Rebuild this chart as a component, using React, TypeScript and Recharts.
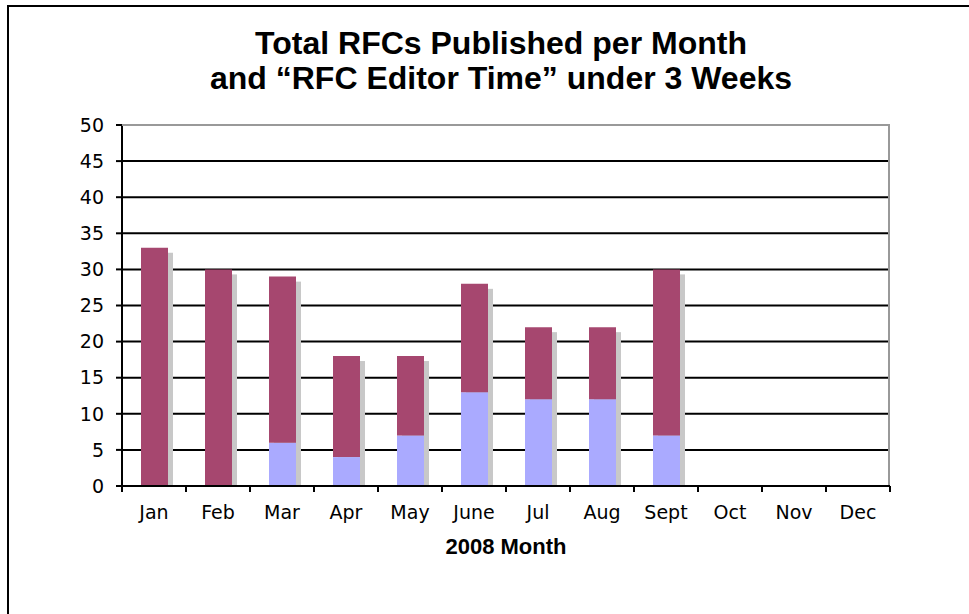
import { BarChart, Bar, XAxis, YAxis, CartesianGrid } from 'recharts';

const months = ['Jan', 'Feb', 'Mar', 'Apr', 'May', 'June', 'Jul', 'Aug', 'Sept', 'Oct', 'Nov', 'Dec'];
const totalPublished = [33, 30, 29, 18, 18, 28, 22, 22, 30, 0, 0, 0];
const underThreeWeeks = [0, 0, 6, 4, 7, 13, 12, 12, 7, 0, 0, 0];
const yTicks = [0, 5, 10, 15, 20, 25, 30, 35, 40, 45, 50];

const data = months.map((m, i) => ({
  month: m,
  total: totalPublished[i],
  under: underThreeWeeks[i],
  over: totalPublished[i] - underThreeWeeks[i],
}));

// plot box in page pixels
const PLOT_LEFT = 122;
const PLOT_RIGHT = 890;
const PLOT_TOP = 125;
const PLOT_BOTTOM = 486;
const BAND = (PLOT_RIGHT - PLOT_LEFT) / months.length;
const TICK_FONT = 'DejaVu Sans, Verdana, sans-serif';

const MonthTick = (props: any) => {
  const { x, y, payload, index } = props;
  const left = x - BAND / 2;
  return (
    <g>
      <line x1={left} y1={y} x2={left} y2={y + 6} stroke="#000" strokeWidth={2} />
      {index === months.length - 1 && (
        <line x1={x + BAND / 2} y1={y} x2={x + BAND / 2} y2={y + 6} stroke="#000" strokeWidth={2} />
      )}
      <text x={x} y={y + 33} textAnchor="middle" fill="#000" fontSize={19} fontFamily={TICK_FONT}>
        {payload.value}
      </text>
    </g>
  );
};

const ShadowShape = (props: any) => {
  const { x, y, width, height, fill } = props;
  if (!height) return null;
  return <rect x={x + 5} y={y + 5} width={width} height={Math.max(height - 5, 0)} fill={fill} />;
};

export default function App() {
  return (
    <div style={{ position: 'fixed', left: 0, top: 0, width: 969, height: 614, overflow: 'hidden', background: '#fff' }}>
      <div
        style={{
          position: 'absolute', left: 7, top: 5, width: 1000, height: 700,
          borderTop: '2px solid #000', borderLeft: '2px solid #000',
        }}
      />
      <div
        style={{
          position: 'absolute', left: 0, top: 26, width: 1002, textAlign: 'center',
          fontFamily: '"Liberation Sans", Arial, sans-serif', fontWeight: 'bold', fontSize: 32, lineHeight: '35px', color: '#000',
        }}
      >
        Total RFCs Published per Month
        <br />
        and “RFC Editor Time” under 3 Weeks
      </div>
      <div style={{ position: 'absolute', left: 0, top: 0 }}>
        <BarChart
          width={969}
          height={614}
          data={data}
          margin={{ top: PLOT_TOP, left: PLOT_LEFT - 60, right: 969 - PLOT_RIGHT, bottom: 614 - PLOT_BOTTOM - 40 }}
        >
          <CartesianGrid vertical={false} stroke="#000" strokeWidth={2} />
          <XAxis xAxisId="shadow" dataKey="month" hide />
          <XAxis
            dataKey="month"
            axisLine={{ stroke: '#000', strokeWidth: 2 }}
            tickLine={false}
            tickSize={0}
            tickMargin={0}
            height={40}
            interval={0}
            tick={<MonthTick />}
          />
          <YAxis
            domain={[0, 50]}
            ticks={yTicks}
            width={60}
            interval={0}
            axisLine={{ stroke: '#000', strokeWidth: 2 }}
            tickLine={{ stroke: '#000', strokeWidth: 2 }}
            tickSize={6}
            tickMargin={12}
            tick={{ fill: '#000', fontSize: 19, fontFamily: TICK_FONT }}
          />
          <Bar xAxisId="shadow" dataKey="total" barSize={27} fill="#c8c8c8" shape={<ShadowShape />} isAnimationActive={false} />
          <Bar dataKey="under" stackId="rfc" barSize={27} fill="#aaaaff" isAnimationActive={false} />
          <Bar dataKey="over" stackId="rfc" barSize={27} fill="#a6476f" isAnimationActive={false} />
        </BarChart>
      </div>
      <div
        style={{
          position: 'absolute', left: PLOT_LEFT, top: PLOT_TOP - 1, width: PLOT_RIGHT - PLOT_LEFT, height: PLOT_BOTTOM - PLOT_TOP,
          borderTop: '2px solid #999', borderRight: '2px solid #999', boxSizing: 'border-box', pointerEvents: 'none',
        }}
      />
      <div
        style={{
          position: 'absolute', left: PLOT_LEFT, top: 534, width: PLOT_RIGHT - PLOT_LEFT, textAlign: 'center',
          fontFamily: '"Liberation Sans", Arial, sans-serif', fontWeight: 'bold', fontSize: 22, lineHeight: '26px', color: '#000',
        }}
      >
        2008 Month
      </div>
    </div>
  );
}
